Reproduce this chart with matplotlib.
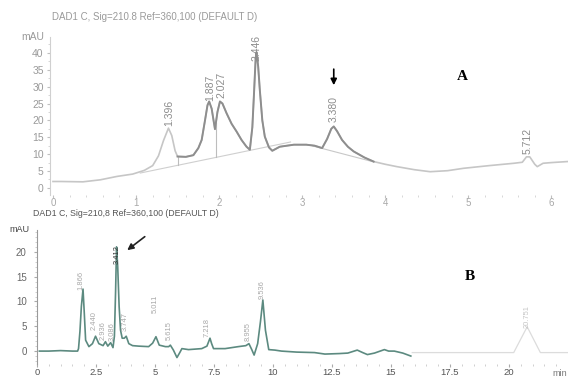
import numpy as np
import matplotlib
matplotlib.use("Agg")
import matplotlib.pyplot as plt
from matplotlib.ticker import MultipleLocator

plt.rcParams['font.family'] = ['Liberation Sans', 'DejaVu Sans']

# ---------------- data: panel A ----------------
a_time = [0.00, 0.10, 0.36, 0.57, 0.77, 0.96, 1.10, 1.20, 1.27, 1.33, 1.39, 1.43, 1.47, 1.50,
          1.60, 1.69, 1.75, 1.79, 1.83, 1.86, 1.88, 1.91, 1.95, 1.98, 2.01, 2.04, 2.09, 2.15,
          2.21, 2.27, 2.33, 2.37, 2.40, 2.42, 2.44, 2.45, 2.47, 2.49, 2.52, 2.55, 2.60, 2.64,
          2.73, 2.90, 3.05, 3.15, 3.24, 3.30, 3.35, 3.38, 3.42, 3.48, 3.55, 3.62, 3.75, 3.86,
          4.00, 4.14, 4.35, 4.54, 4.75, 4.94, 5.25, 5.55, 5.65, 5.70, 5.74, 5.80, 5.83, 5.90,
          6.00, 6.19]
a_mau = [1.9, 1.9, 1.8, 2.4, 3.4, 4.1, 5.2, 6.6, 9.5, 14.0, 17.7, 15.5, 11.0, 9.3,
         9.2, 9.7, 11.8, 14.2, 20.0, 24.5, 25.6, 23.5, 17.4, 22.5, 25.6, 25.0, 22.1, 19.0,
         16.7, 14.2, 12.2, 11.3, 18.0, 28.0, 38.5, 40.2, 36.0, 29.0, 20.0, 15.2, 12.0, 11.0,
         12.2, 12.8, 12.8, 12.5, 11.8, 14.5, 17.5, 18.2, 16.8, 14.2, 12.2, 10.8, 9.0, 7.8,
         7.0, 6.3, 5.4, 4.8, 5.1, 5.8, 6.6, 7.3, 7.6, 9.2, 9.2, 7.0, 6.3, 7.3,
         7.5, 7.8]
a_peak_rt = [1.396, 1.887, 2.027, 2.446, 3.380, 5.712]
a_peak_lbl = ["1.396", "1.887", "2.027", "2.446", "3.380", "5.712"]
a_base1_t = [1.05, 2.86]
a_base1_v = [4.4, 13.6]
a_base2_t = [3.13, 3.86]
a_base2_v = [12.4, 7.7]
a_drop_t = [1.51, 1.96]
a_xticks = [0, 1, 2, 3, 4, 5, 6]
a_yticks = [0, 5, 10, 15, 20, 25, 30, 35, 40]

# ---------------- data: panel B ----------------
b_time = [0.10, 0.50, 1.00, 1.50, 1.72, 1.76, 1.82, 1.88, 1.95, 2.00, 2.06, 2.20, 2.35, 2.48,
          2.62, 2.80, 2.90, 3.00, 3.12, 3.22, 3.28, 3.33, 3.37, 3.42, 3.48, 3.54, 3.61, 3.70,
          3.78, 3.89, 4.05, 4.31, 4.73, 4.90, 5.04, 5.18, 5.44, 5.58, 5.65, 5.78, 5.93, 6.05,
          6.14, 6.42, 6.98, 7.20, 7.33, 7.40, 7.48, 7.97, 8.53, 8.85, 8.98, 9.10, 9.20, 9.35,
          9.47, 9.57, 9.68, 9.82, 10.08, 10.36, 11.0, 11.76, 12.2, 12.8, 13.17, 13.57, 13.8,
          14.0, 14.3, 14.72, 14.9, 15.14, 15.5, 15.84]
b_mau = [0.0, 0.0, 0.1, 0.0, 0.0, 0.5, 4.0, 9.0, 12.5, 8.0, 2.2, 0.9, 1.5, 3.0,
         1.5, 1.1, 1.9, 1.0, 1.7, 0.7, 3.0, 12.0, 21.0, 17.0, 9.0, 4.2, 2.6, 2.6,
         3.0, 1.5, 1.1, 1.0, 0.9, 1.6, 2.9, 1.2, 0.9, 0.9, 1.2, 0.2, -1.3, -0.3,
         0.5, 0.3, 0.5, 1.0, 2.6, 1.5, 0.5, 0.5, 0.9, 1.1, 1.5, 0.3, -0.8, 1.5,
         6.0, 10.3, 4.2, 0.3, 0.2, 0.0, -0.2, -0.3, -0.6, -0.5, -0.4, 0.2, -0.3,
         -0.7, -0.4, 0.3, 0.0, 0.0, -0.4, -1.0]
b_faint_t = [15.9, 20.2, 20.77, 21.33, 22.6]
b_faint_v = [-0.3, -0.3, 4.9, -0.3, -0.3]
b_peak_rt = [1.866, 2.440, 2.936, 3.086, 3.412, 3.747, 5.011, 5.615, 7.218, 8.955, 9.536, 20.751]
b_peak_lbl = ["1.866", "2.440", "2.936", "3.086", "3.412", "3.747", "5.011", "5.615",
              "7.218", "8.955", "9.536", "20.751"]
b_xticks = [0, 2.5, 5, 7.5, 10, 12.5, 15, 17.5, 20]
b_xticklabels = ["0", "2.5", "5", "7.5", "10", "12.5", "15", "17.5", "20"]
b_yticks = [0, 5, 10, 15, 20]

# label offsets (points: x shift, y above the trace)
a_lbl_off = [2.5, 1.5, 3.0, -5.0, 3.0, 2.0]
b_lbl_dx = [0, 0, -2, 2, 0, 0, 0, 0, 0, 0, 0, 0]
b_lbl_off = [16, 6, 2, 2, 0, 4, 18, 4, 6, 2.5, 6, 0]

fig = plt.figure(figsize=(5.68, 3.80), dpi=100)
W, H = 568, 380

# ---------------- panel A ----------------
axA = fig.add_axes([50 / W, 1 - 195 / H, 518 / W, 158 / H])
axA.set_xlim(-0.036, 6.2)
axA.set_ylim(-2.1, 44.7)
ta = np.array(a_time)
va = np.array(a_mau)
axA.plot(ta, va, color='#c6c6c6', lw=1.2, zorder=2)
mask = (ta >= 1.48) & (ta <= 3.95)
axA.plot(ta[mask], va[mask], color='#8e8e8e', lw=1.4, zorder=3)
axA.plot(a_base1_t, a_base1_v, color='#cfcfcf', lw=0.8, zorder=1)
axA.plot(a_base2_t, a_base2_v, color='#c8c8c8', lw=0.8, zorder=1)
for t in a_drop_t:
    yb = np.interp(t, a_base1_t, a_base1_v)
    yt = np.interp(t, ta, va)
    axA.plot([t, t], [yb, yt], color='#bdbdbd', lw=0.8, zorder=1)
for rt, lbl, off in zip(a_peak_rt, a_peak_lbl, a_lbl_off):
    y = np.interp(rt, ta, va)
    axA.annotate(lbl, (rt, y), xytext=(0, off), textcoords='offset points',
                 rotation=90, ha='center', va='bottom', fontsize=7.5, color='#8c8c8c')
axA.annotate('', xy=(3.38, 29.6), xytext=(3.38, 36.0),
             arrowprops=dict(arrowstyle='-|>', color='black', lw=1.2, mutation_scale=9))
fig.text(462 / W, 1 - 77 / H, 'A', family='Liberation Serif', fontweight='bold',
         fontsize=11, ha='center', va='center')

axA.set_xticks(a_xticks)
axA.set_yticks(a_yticks)
axA.xaxis.set_minor_locator(MultipleLocator(0.2))
axA.yaxis.set_minor_locator(MultipleLocator(2.5))
for s in ['top', 'right', 'bottom']:
    axA.spines[s].set_visible(False)
axA.spines['left'].set_color('#d0d0d0')
axA.spines['left'].set_linewidth(0.8)
axA.tick_params(axis='both', which='major', colors='#c0c0c0', labelcolor='#9a9a9a',
                labelsize=7.5, length=2.5, width=0.8, pad=2)
axA.tick_params(axis='both', which='minor', colors='#d0d0d0', length=1.5, width=0.6)
axA.tick_params(axis='x', labelcolor='#a8a8a8', labelsize=7, pad=0, length=2)
fig.text(52 / W, 1 - 17 / H, 'DAD1 C, Sig=210.8 Ref=360,100 (DEFAULT D)',
         fontsize=7, color='#9a9a9a', ha='left', va='center')
fig.text(44 / W, 1 - 37 / H, 'mAU', fontsize=7.5, color='#9a9a9a', ha='right', va='center')

# ---------------- panel B ----------------
axB = fig.add_axes([37 / W, 1 - 364 / H, 531 / W, 134 / H])
axB.set_xlim(0.105, 22.5)
axB.set_ylim(-2.6, 24.4)
tb = np.array(b_time)
vb = np.array(b_mau)
axB.plot(tb, vb, color='#5c8a80', lw=1.2, zorder=3)
axB.plot(b_faint_t, b_faint_v, color='#dcdcdc', lw=0.9, zorder=2)
for rt, lbl, dx, off in zip(b_peak_rt, b_peak_lbl, b_lbl_dx, b_lbl_off):
    if rt <= tb[-1]:
        y = np.interp(rt, tb, vb)
    else:
        y = np.interp(rt, b_faint_t, b_faint_v)
    col = '#333333' if lbl == "3.412" else '#a8a8a8'
    if lbl == "20.751":
        col = '#c4c4c4'
    axB.annotate(lbl, (rt, y), xytext=(dx, off), textcoords='offset points',
                 rotation=90, ha='center', va='bottom', fontsize=5.4, color=col)
axB.annotate('', xy=(3.73, 20.0), xytext=(4.66, 23.4),
             arrowprops=dict(arrowstyle='-|>', color='#222222', lw=1.2, mutation_scale=9))
fig.text(470 / W, 1 - 277 / H, 'B', family='Liberation Serif', fontweight='bold',
         fontsize=11, ha='center', va='center')

axB.set_xticks(b_xticks)
axB.set_xticklabels(b_xticklabels)
axB.set_yticks(b_yticks)
axB.xaxis.set_minor_locator(MultipleLocator(0.5))
axB.yaxis.set_minor_locator(MultipleLocator(1))
for s in ['top', 'right', 'bottom']:
    axB.spines[s].set_visible(False)
axB.spines['left'].set_color('#9a9a9a')
axB.spines['left'].set_linewidth(0.8)
axB.tick_params(axis='both', which='major', colors='#aaaaaa', labelcolor='#666666',
                labelsize=7, length=2.5, width=0.8, pad=5)
axB.tick_params(axis='both', which='minor', colors='#c8c8c8', length=1.2, width=0.6)
axB.tick_params(axis='x', labelcolor='#555555', labelsize=6.8, pad=1, length=2)
fig.text(33 / W, 1 - 213 / H, 'DAD1 C, Sig=210,8 Ref=360,100 (DEFAULT D)',
         fontsize=6.3, color='#555555', ha='left', va='center')
fig.text(30 / W, 1 - 230 / H, 'mAU', fontsize=6.5, color='#444444', ha='right', va='center')
fig.text(560 / W, 1 - 374 / H, 'min', fontsize=6.5, color='#777777', ha='center', va='center')

fig.savefig('out.png', dpi=100, facecolor='white')
